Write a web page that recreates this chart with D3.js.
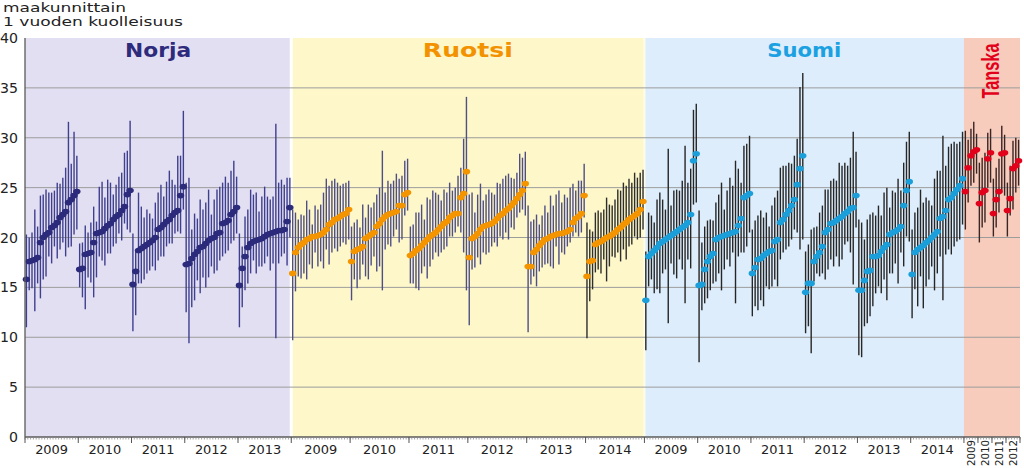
<!DOCTYPE html>
<html><head><meta charset="utf-8">
<script src="https://cdn.jsdelivr.net/npm/d3@7"></script>
<style>body{margin:0;background:#fff;overflow:hidden} svg{display:block;font-family:"DejaVu Sans",Verdana,sans-serif}</style>
</head><body><svg id="c" width="1024" height="468"></svg>
<script>
// ---------- DATA ----------
const countryNames = ["Norja", "Ruotsi", "Suomi", "Tanska"];
const norjaYears = ["2009","2010","2011","2012","2013"];
const ruotsiYears = ["2009","2010","2011","2012","2013","2014"];
const suomiYears = ["2009","2010","2011","2012","2013","2014"];
const tanskaYears = ["2009","2010","2011","2012"];
const yTicks = [0,5,10,15,20,25,30,35,40];

const norjaMid = [
 [15.8,17.6,17.7,17.8,18.0,19.5,20.0,20.3,20.5,21.0,21.2,21.5,22.0,22.3,22.6,23.5,23.8,24.2,24.6],
 [16.8,16.9,18.3,18.4,18.5,19.5,20.4,20.5,20.6,20.9,21.2,21.4,21.8,22.1,22.3,22.7,23.1,24.3,24.7],
 [15.3,16.6,18.7,18.9,19.1,19.3,19.5,19.7,20.0,20.8,21.0,21.3,21.6,21.8,22.2,22.5,22.7,24.2,25.1],
 [17.3,17.4,17.9,18.3,18.6,19.0,19.1,19.4,19.7,19.9,20.0,20.4,20.5,21.4,21.5,21.7,22.3,22.6,23.0],
 [15.2,16.9,18.1,19.0,19.4,19.6,19.7,19.8,19.9,20.1,20.3,20.4,20.5,20.6,20.7,20.7,20.8,21.6,23.0]];
const norjaLo = [
 [11.0,14.7,14.9,12.6,15.4,13.9,15.8,16.1,18.1,17.4,19.1,17.9,18.8,19.5,18.1,19.0,19.1,20.3,20.8],
 [15.0,14.0,12.8,16.0,15.5,14.0,16.0,18.1,17.7,17.2,18.4,18.4,19.1,19.4,20.4,19.7,21.4,20.8,20.5],
 [10.6,12.2,15.4,15.4,15.8,16.4,16.7,17.1,16.7,17.7,18.1,18.1,19.1,19.4,19.4,20.4,20.6,20.4,22.8],
 [12.5,9.4,13.0,13.7,15.7,14.4,16.0,15.0,16.0,17.1,16.4,16.7,17.7,18.1,18.4,18.7,19.4,19.7,20.4],
 [11.0,13.0,14.7,15.4,16.4,17.7,16.4,17.1,17.1,17.4,18.1,16.7,17.4,9.9,17.4,18.1,18.4,17.2,20.0]];
const norjaHi = [
 [20.3,20.0,20.5,22.8,21.1,24.2,24.3,24.8,24.5,24.5,24.7,25.5,25.4,26.0,27.0,31.6,27.4,30.6,28.2],
 [19.4,19.5,21.2,20.5,21.5,23.1,21.6,25.1,25.6,24.0,25.8,25.5,24.3,25.3,26.1,26.5,28.5,28.7,31.7],
 [20.4,18.6,24.5,23.1,22.0,22.8,22.4,21.9,23.5,24.5,25.3,24.1,25.6,26.7,25.8,25.3,28.2,28.2,32.7],
 [25.5,26.0,20.8,22.4,21.9,23.8,22.8,23.5,24.8,22.3,23.8,24.8,25.1,25.5,26.1,25.5,26.7,27.7,26.1],
 [20.4,19.1,22.1,22.8,24.8,24.3,24.5,22.6,24.1,25.1,24.1,23.8,24.1,31.4,25.5,25.8,25.3,26.0,26.0]];

const ruotsiMid = [
 [16.4,18.5,19.0,19.3,19.5,19.8,19.9,20.1,20.1,20.2,20.3,20.5,20.8,21.3,21.5,21.8,21.9,22.1,22.3,22.4,22.8],
 [17.6,18.6,18.8,18.9,19.1,19.9,20.1,20.3,20.5,21.1,21.4,21.8,22.1,22.3,22.4,22.5,22.6,23.2,23.2,24.3,24.5],
 [18.2,18.4,18.7,18.9,19.2,19.5,19.8,20.1,20.3,20.5,20.8,21.1,21.4,21.6,22.0,22.2,22.4,22.4,24.0,24.4,26.6],
 [18.0,19.9,20.1,20.4,20.8,21.1,21.2,21.3,21.4,21.6,21.9,22.2,22.4,22.7,22.9,23.2,23.5,23.9,24.3,24.7,25.4],
 [17.1,17.1,18.5,18.8,19.2,19.5,19.8,19.9,20.1,20.2,20.3,20.4,20.4,20.5,20.6,20.8,21.5,21.9,22.1,22.4,24.2],
 [16.1,17.6,17.7,19.3,19.5,19.6,19.8,20.0,20.1,20.3,20.5,20.8,21.0,21.3,21.5,21.8,22.0,22.2,22.4,22.8,23.6]];
const ruotsiLo = [
 [9.7,14.6,16.1,15.9,16.4,15.8,17.3,16.9,18.5,17.1,17.6,16.9,18.8,17.3,18.5,18.9,18.6,19.1,19.5,19.3,19.8],
 [13.7,15.8,14.9,15.8,17.3,16.1,15.8,17.2,18.1,16.6,17.1,14.7,18.8,19.3,19.1,20.1,20.8,19.5,19.8,22.2,22.7],
 [15.4,15.4,14.9,14.7,16.4,17.1,15.9,17.1,17.8,18.5,18.1,18.5,18.8,19.1,20.1,20.1,20.5,21.1,20.5,18.5,14.7],
 [11.2,16.8,17.0,18.0,17.3,18.5,18.3,18.5,19.1,19.5,19.1,20.1,19.8,20.5,19.8,21.0,20.8,22.0,22.5,22.8,22.2],
 [10.5,15.3,16.1,15.1,16.6,17.0,17.3,17.4,17.1,16.9,19.1,17.3,18.5,18.3,19.1,19.5,20.1,20.5,20.1,20.5,22.0],
 [9.9,13.6,14.8,16.5,16.8,16.4,17.8,15.6,17.1,18.1,18.0,18.5,17.6,18.8,17.8,19.1,19.3,20.1,19.8,20.0,20.8]];
const ruotsiHi = [
 [22.8,22.5,21.8,22.3,22.2,23.7,22.8,21.3,23.2,22.8,23.3,24.5,25.9,25.2,25.7,25.9,25.5,25.2,25.4,25.5,25.7],
 [21.1,21.5,21.8,21.0,23.3,22.0,23.3,23.0,23.5,24.3,25.0,28.7,24.5,25.7,25.4,25.7,26.4,25.9,26.2,27.7,27.9],
 [21.1,21.3,22.5,22.5,23.3,21.8,24.0,23.8,24.7,24.5,24.3,23.7,24.8,24.5,25.5,24.7,25.0,26.2,27.0,29.9,34.1],
 [24.3,24.5,22.5,24.3,25.4,23.7,24.3,24.8,24.5,24.3,25.5,25.4,25.9,26.2,26.4,26.0,25.9,26.5,28.4,28.0,28.6],
 [23.2,21.6,21.8,22.3,21.3,22.2,23.2,22.5,24.2,23.2,24.3,24.7,23.5,24.3,24.0,25.0,25.4,24.7,25.7,25.7,27.4],
 [21.5,20.8,20.6,22.5,22.7,22.5,22.8,24.0,23.3,23.2,23.8,24.8,24.7,25.5,25.2,25.9,25.5,26.5,26.0,26.5,26.8]];

const suomiMid = [
 [13.7,18.1,18.4,18.7,19.0,19.4,19.6,19.8,20.0,20.2,20.4,20.6,20.8,21.0,21.2,21.5,22.3,27.7,28.4],
 [15.2,15.3,16.8,17.6,18.1,18.4,19.8,20.0,20.1,20.2,20.3,20.4,20.5,20.6,21.2,21.9,24.0,24.2,24.4],
 [16.4,17.0,17.8,17.9,18.2,18.4,18.6,18.7,19.6,19.8,21.5,21.8,22.3,22.7,23.2,23.8,25.3,26.9,28.2],
 [14.5,15.4,15.4,17.6,18.1,18.5,19.1,20.5,20.8,21.4,21.5,21.7,21.9,22.1,22.4,22.6,22.9,23.0,24.2],
 [14.7,14.7,15.7,16.6,16.7,18.1,18.1,18.2,18.6,19.0,19.3,20.3,20.5,20.6,20.8,21.1,23.2,24.7,25.6],
 [16.3,18.5,18.8,19.0,19.2,19.5,19.7,20.0,20.3,20.6,21.9,22.1,22.7,23.8,24.0,24.4,24.8,25.2,25.9]];
const suomiLo = [
 [8.7,15.1,15.8,14.4,14.8,14.4,16.4,16.8,11.4,17.4,16.3,15.9,17.8,16.8,13.4,17.8,16.9,23.3,23.5],
 [7.5,12.7,13.4,13.9,14.7,15.4,15.6,16.4,14.7,16.8,17.8,17.1,18.5,13.4,18.1,18.5,18.5,19.1,20.5],
 [12.1,13.1,12.7,13.7,13.1,15.1,14.8,15.1,15.8,15.1,17.8,18.5,18.8,19.1,19.8,20.8,20.5,18.8,19.8],
 [10.4,11.1,8.4,15.6,16.4,16.1,16.4,15.8,16.8,17.8,17.1,18.1,17.1,17.8,19.3,19.6,18.5,15.3,21.0],
 [8.2,8.0,11.1,11.4,12.1,13.1,14.4,15.1,14.4,15.8,13.7,16.4,16.4,17.4,15.4,18.5,17.1,20.1,19.6],
 [11.9,14.8,13.1,16.1,12.9,15.1,15.8,17.1,14.7,16.4,18.1,13.7,18.3,18.8,18.3,19.1,19.6,19.8,21.3]];
const suomiHi = [
 [18.6,22.5,22.2,21.5,23.8,24.5,23.8,22.8,28.9,23.2,24.7,24.8,24.7,25.7,29.2,25.5,26.9,32.8,33.4],
 [22.7,19.5,21.1,21.7,21.8,21.7,23.5,24.3,25.5,22.8,24.7,26.0,25.2,27.7,26.9,25.5,29.2,29.4,30.2],
 [20.8,21.7,22.2,22.7,22.0,22.5,21.1,23.2,24.0,24.7,27.0,27.2,27.2,27.5,27.4,28.2,29.9,35.1,36.5],
 [18.6,19.3,20.8,21.0,21.1,22.5,23.2,24.8,24.8,25.7,25.9,25.7,27.5,27.2,27.5,27.2,28.0,30.6,28.6],
 [21.8,21.5,19.8,21.8,22.3,22.5,22.2,23.2,22.2,24.5,25.0,23.0,24.7,24.5,25.9,24.7,27.5,29.6,30.6],
 [20.8,22.5,23.0,24.8,23.5,24.0,23.7,23.2,25.9,26.7,26.7,30.2,27.2,29.1,29.4,29.6,29.4,29.6,30.6]];

const tanskaMid = [
 [24.6,27.0,28.2,28.6,28.8],
 [23.4,24.5,24.7,27.9,28.5],
 [22.4,23.8,24.6,28.4,28.5],
 [22.7,23.9,26.9,27.2,27.7]];
const tanskaLo = [
 [20.8,23.5,25.2,25.5,26.4],
 [19.5,21.0,21.5,25.0,25.5],
 [20.1,21.0,22.5,24.5,24.2],
 [20.1,22.2,22.8,24.5,25.2]];
const tanskaHi = [
 [30.7,29.8,30.9,31.6,30.4],
 [27.5,28.0,28.5,30.5,30.9],
 [25.9,27.0,27.9,31.2,30.3],
 [25.5,27.2,29.7,30.0,29.8]];

// ---------- STYLE ----------
const countries = [
 {name:countryNames[0], years:norjaYears, mid:norjaMid, lo:norjaLo, hi:norjaHi,
  bg:"#e2dff2", dot:"#2b2a7b", line:["#3f3f8f"], title:"#2e2a7c", titleW:66},
 {name:countryNames[1], years:ruotsiYears, mid:ruotsiMid, lo:ruotsiLo, hi:ruotsiHi,
  bg:"#fdf7c9", dot:"#f49500", line:["#4f4f86","#4f4f86","#4f4f86","#4f4f86","#4f4f86","#2e2e2e"], title:"#f39200", titleW:90},
 {name:countryNames[2], years:suomiYears, mid:suomiMid, lo:suomiLo, hi:suomiHi,
  bg:"#ddedfb", dot:"#1b9fda", line:["#262626"], title:"#1ba1e2", titleW:74},
 {name:countryNames[3], years:tanskaYears, mid:tanskaMid, lo:tanskaLo, hi:tanskaHi,
  bg:"#f7ccbc", dot:"#e2001a", line:["#3b2424"], title:"#e2001a", titleW:55}
];

// flatten to points
const pts = [];
const yearSpans = [];
const countrySpans = [];
let idx = 0;
countries.forEach((c, ci) => {
  const cStart = idx;
  c.years.forEach((yr, yi) => {
    const yStart = idx;
    c.mid[yi].forEach((m, ri) => {
      pts.push({ci, yi, idx, mid:m, lo:c.lo[yi][ri], hi:c.hi[yi][ri],
        dot:c.dot, line:c.line[Math.min(yi, c.line.length-1)]});
      idx++;
    });
    yearSpans.push({ci, label:yr, start:yStart, end:idx});
  });
  countrySpans.push({ci, start:cStart, end:idx});
});
const N = idx;

const svg = d3.select("#c");
const x = d3.scaleBand().domain(d3.range(N)).range([25, 1020]).padding(0);
const bw = x.bandwidth();
const xl = i => (i < N ? x(i) : x(N-1) + bw);
const y = d3.scaleLinear().domain([0, 40]).range([437, 38]);

// backgrounds
svg.append("g").selectAll("rect").data(countrySpans).join("rect")
  .attr("x", d => xl(d.start)).attr("y", y(40))
  .attr("width", d => xl(d.end) - xl(d.start)).attr("height", y(0) - y(40))
  .attr("fill", d => countries[d.ci].bg);
// separators
svg.append("line").attr("x1", xl(countrySpans[1].start)).attr("x2", xl(countrySpans[1].start))
  .attr("y1", y(40)).attr("y2", y(0)).attr("stroke", "#ffffff").attr("stroke-width", 3);
svg.append("line").attr("x1", xl(countrySpans[2].start)).attr("x2", xl(countrySpans[2].start))
  .attr("y1", y(40)).attr("y2", y(0)).attr("stroke", "#fefde8").attr("stroke-width", 2);

// gridlines
svg.append("g").selectAll("line").data(yTicks.filter(t => t > 0 && t < 40)).join("line")
  .attr("x1", 25).attr("x2", 1020).attr("y1", d => y(d)).attr("y2", d => y(d))
  .attr("stroke", "#9c9c9c").attr("stroke-width", 1);

// CI lines
svg.append("g").selectAll("line").data(pts).join("line")
  .attr("x1", d => x(d.idx) + bw/2).attr("x2", d => x(d.idx) + bw/2)
  .attr("y1", d => y(d.lo)).attr("y2", d => y(d.hi))
  .attr("stroke", d => d.line).attr("stroke-width", 1.4);

// dots
svg.append("g").selectAll("ellipse").data(pts).join("ellipse")
  .attr("cx", d => x(d.idx) + bw/2).attr("cy", d => y(d.mid))
  .attr("rx", 3.7).attr("ry", 2.8).attr("fill", d => d.dot);

// country titles
countrySpans.forEach(s => {
  const c = countries[s.ci];
  const cx = (xl(s.start) + xl(s.end)) / 2;
  if (s.ci < 3) {
    svg.append("text").attr("x", cx).attr("y", 57).attr("text-anchor", "middle")
      .attr("font-size", 19).attr("font-weight", "bold").attr("fill", c.title)
      .attr("textLength", c.titleW).attr("lengthAdjust", "spacingAndGlyphs").text(c.name);
  } else {
    svg.append("text").attr("transform", `translate(${cx + 7},71) rotate(-90)`)
      .attr("text-anchor", "middle").attr("font-family", "'Liberation Sans',Arial,sans-serif")
      .attr("font-size", 23).attr("font-weight", "bold").attr("fill", c.title)
      .attr("textLength", c.titleW).attr("lengthAdjust", "spacingAndGlyphs").text(c.name);
  }
});

// y axis
const yAxis = svg.append("g");
yAxis.append("line").attr("x1", 25).attr("x2", 25).attr("y1", y(40)).attr("y2", y(0))
  .attr("stroke", "#5a5a5a").attr("stroke-width", 1.3);
yAxis.selectAll("text").data(yTicks).join("text")
  .attr("x", 18).attr("y", d => y(d) + 5).attr("text-anchor", "end")
  .attr("font-size", 13.5).attr("fill", "#222")
  .attr("textLength", d => String(d).length * 9).attr("lengthAdjust", "spacingAndGlyphs")
  .text(d => d);

// x axis
const xAxis = svg.append("g");
xAxis.append("line").attr("x1", 25).attr("x2", 1020).attr("y1", y(0)).attr("y2", y(0))
  .attr("stroke", "#5a5a5a").attr("stroke-width", 1.3);
xAxis.selectAll("line.minor").data(d3.range(N + 1)).join("line").attr("class", "minor")
  .attr("x1", d => xl(d)).attr("x2", d => xl(d)).attr("y1", y(0)).attr("y2", y(0) + 2.5)
  .attr("stroke", "#8a8a8a").attr("stroke-width", 0.8);
xAxis.selectAll("line.major").data(yearSpans.map(s => s.start).concat([N])).join("line").attr("class", "major")
  .attr("x1", d => xl(d)).attr("x2", d => xl(d)).attr("y1", y(0)).attr("y2", y(0) + 6)
  .attr("stroke", "#555").attr("stroke-width", 1);
yearSpans.forEach(s => {
  const cx = (xl(s.start) + xl(s.end)) / 2;
  if (s.ci < 3) {
    xAxis.append("text").attr("x", cx).attr("y", 454).attr("text-anchor", "middle")
      .attr("font-size", 13).attr("fill", "#222")
      .attr("textLength", 33).attr("lengthAdjust", "spacingAndGlyphs").text(s.label);
  } else {
    xAxis.append("text").attr("transform", `translate(${cx + 4},440) rotate(-90)`)
      .attr("text-anchor", "end").attr("font-size", 11).attr("fill", "#222")
      .attr("textLength", 26).attr("lengthAdjust", "spacingAndGlyphs").text(s.label);
  }
});

// header text
svg.append("text").attr("x", 3).attr("y", 12).attr("font-size", 12.5).attr("fill", "#222")
  .attr("textLength", 123).attr("lengthAdjust", "spacingAndGlyphs").text("maakunnittain");
svg.append("text").attr("x", 3).attr("y", 25.5).attr("font-size", 12.5).attr("fill", "#222")
  .attr("textLength", 180).attr("lengthAdjust", "spacingAndGlyphs").text("1 vuoden kuolleisuus");
</script>
</body></html>
